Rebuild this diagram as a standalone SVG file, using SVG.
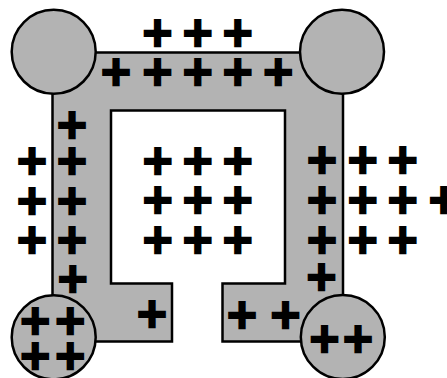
<svg xmlns="http://www.w3.org/2000/svg" width="447" height="378" viewBox="0 0 447 378">
<style>
.body{fill:#b3b3b3;stroke:#000;stroke-width:2.5;stroke-linejoin:miter}
.q{font-family:"DejaVu Sans",sans-serif;font-weight:bold;font-size:40px;fill:#000;stroke:#000;stroke-width:2.6;stroke-linejoin:miter;text-anchor:middle}
</style>
<rect width="447" height="378" fill="#fff"/>
<g id="conductor">
<path class="body" d="M52.5,52.5 H343 V341.5 H222.5 V283.5 H285 V110.5 H111 V283.5 H172 V341.5 H52.5 Z"/>
</g>
<g id="spheres">
<circle id="sphere-tl" class="body" cx="53.7" cy="51.8" r="42"/>
<circle id="sphere-tr" class="body" cx="342" cy="51.8" r="42"/>
<circle id="sphere-bl" class="body" cx="53.7" cy="337.3" r="42"/>
<circle id="sphere-br" class="body" cx="342.8" cy="337" r="42"/>
</g>
<g id="charges">
<text class="q" x="157.5 197.7 237.7" y="45.8">+++</text>
<text class="q" x="116 157.5 197.7 237.7 278.3" y="85">+++++</text>
<text class="q" x="72" y="137.5">+</text>
<text class="q" x="32 72" y="174">++</text>
<text class="q" x="32 72" y="213.5">++</text>
<text class="q" x="32 72" y="253">++</text>
<text class="q" x="72.8" y="292">+</text>
<text class="q" x="157.7 197.7 237.7" y="173.5">+++</text>
<text class="q" x="157.7 197.7 237.7" y="213">+++</text>
<text class="q" x="157.7 197.7 237.7" y="252.5">+++</text>
<text class="q" x="322 362.8 402.8" y="173.3">+++</text>
<text class="q" x="322 362.8 402.8 443.8" y="213.3">++++</text>
<text class="q" x="322 362.8 402.8" y="252.7">+++</text>
<text class="q" x="321.5" y="290">+</text>
<text class="q" x="152" y="327">+</text>
<text class="q" x="242 285.5" y="328">++</text>
<text class="q" x="35.3 70.3" y="334">++</text>
<text class="q" x="35.3 70.3" y="369">++</text>
<text class="q" x="324.5 358" y="351.5">++</text>
</g>
</svg>
